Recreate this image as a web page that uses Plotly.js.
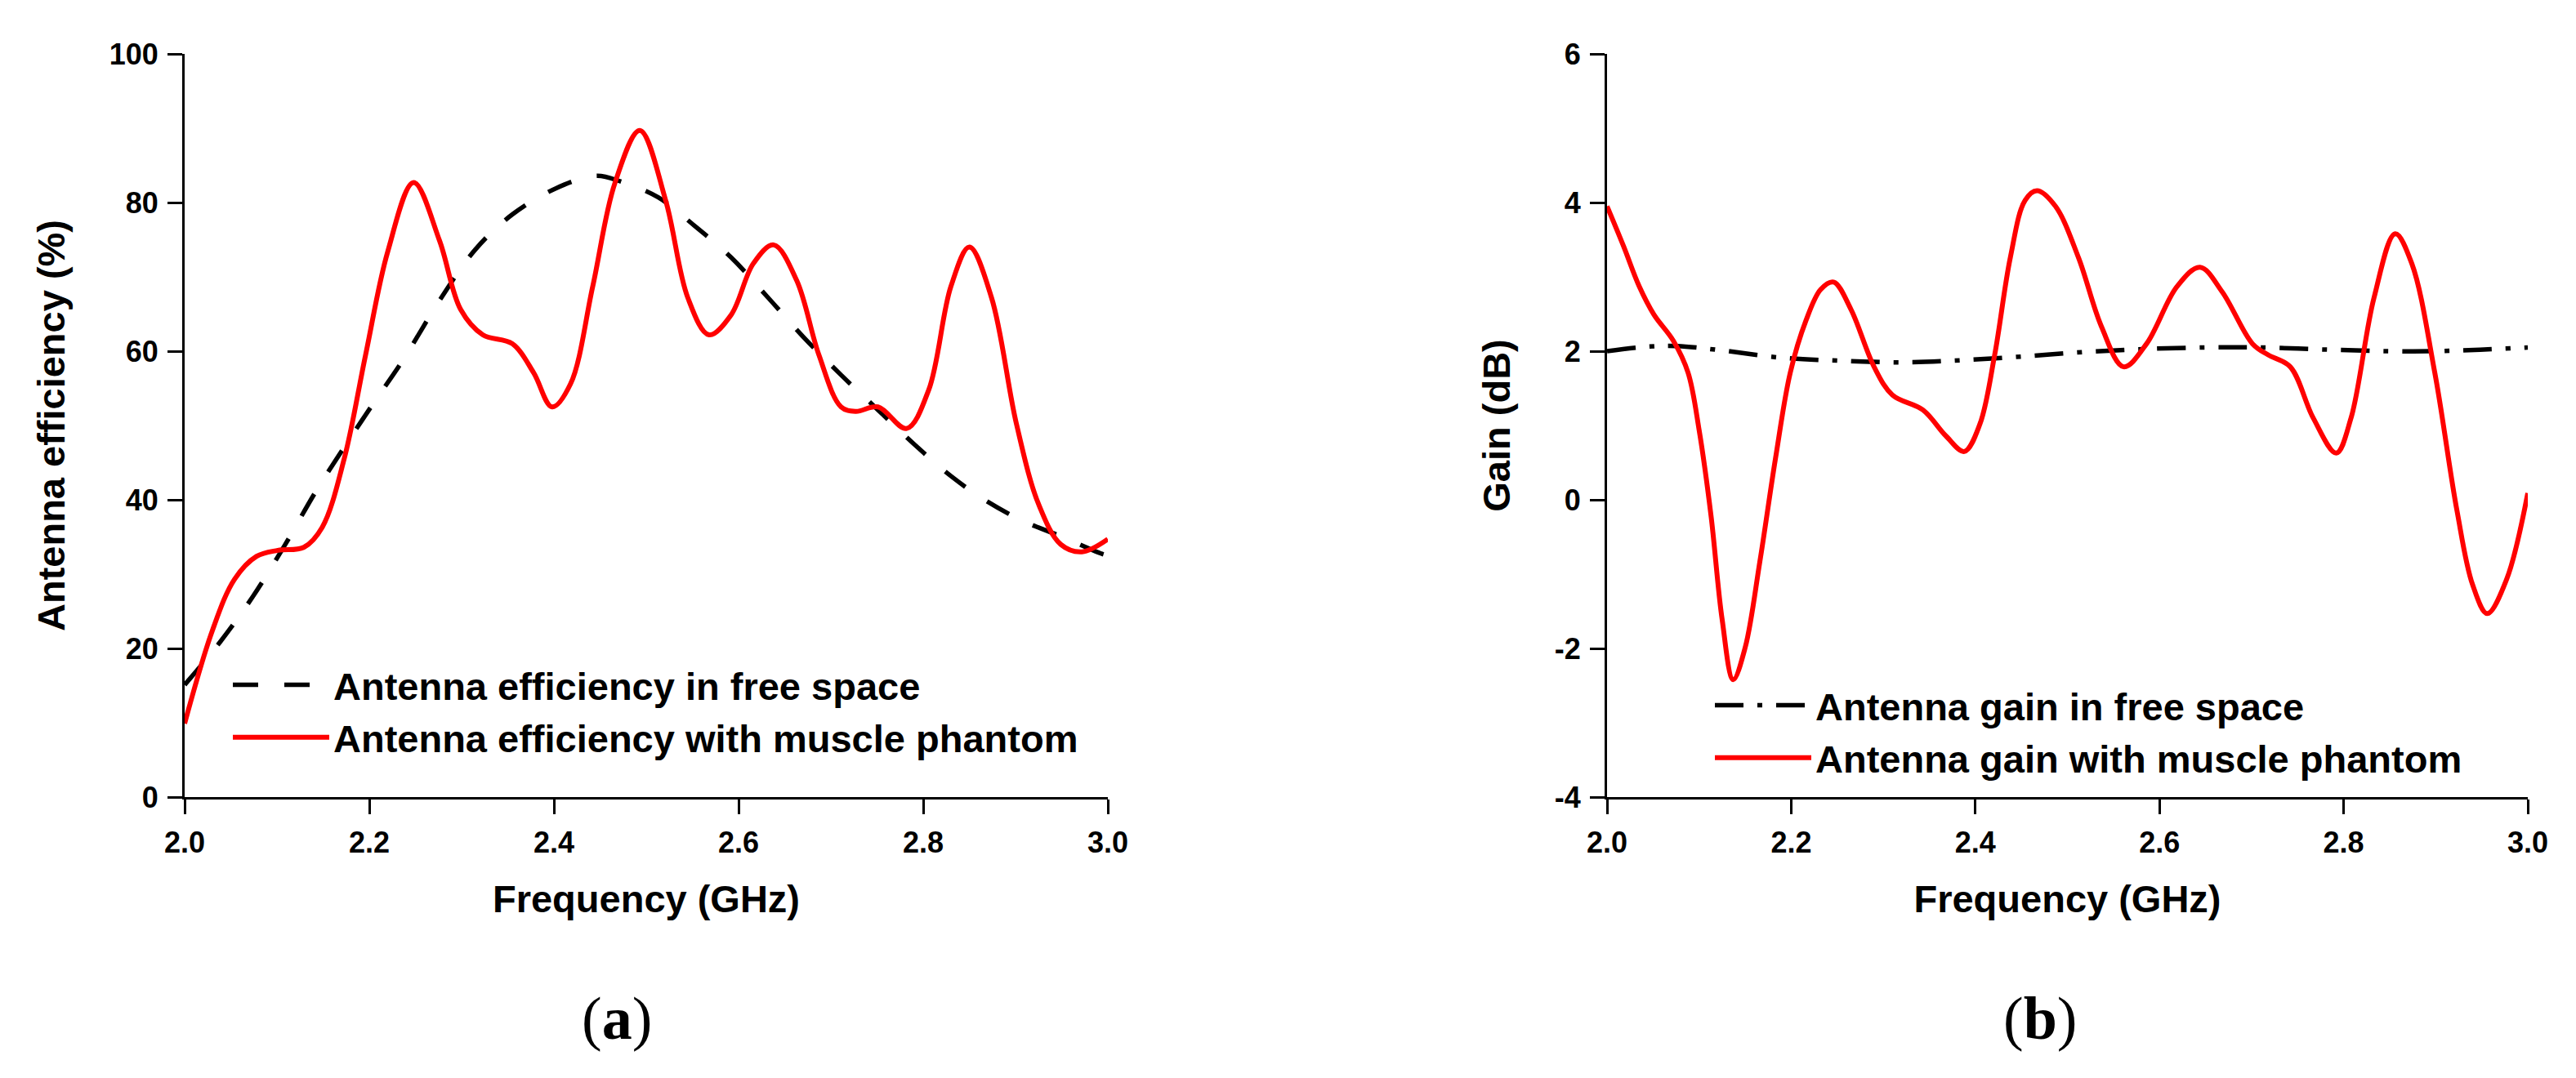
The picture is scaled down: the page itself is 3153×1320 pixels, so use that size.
<!DOCTYPE html>
<html>
<head>
<meta charset="utf-8">
<script src="https://cdn.plot.ly/plotly-3.0.1.min.js"></script>
<style>
  html, body { margin: 0; padding: 0; background: #fff; }
  #chart { width: 3153px; height: 1320px; }
</style>
</head>
<body>
<div id="chart"></div>
<script>
// ------------------------------------------------------------
// data
// ------------------------------------------------------------

// (a) antenna efficiency, free space (dashed black)
const effFreeFreq = [2.0, 2.038, 2.074, 2.109, 2.141, 2.173, 2.204, 2.236, 2.276, 2.315, 2.355, 2.402, 2.446, 2.473, 2.513, 2.553, 2.592, 2.632, 2.671, 2.711, 2.751, 2.790, 2.830, 2.869, 2.909, 2.949, 2.992, 3.0]
const effFreeVal  = [15.1, 20.8, 27.0, 34.0, 40.9, 47.1, 52.9, 58.7, 66.8, 73.7, 78.4, 81.9, 83.6, 82.8, 80.7, 76.8, 72.6, 67.2, 61.8, 56.8, 52.1, 47.5, 43.2, 39.8, 37.1, 35.1, 32.8, 32.5]

// (a) antenna efficiency, muscle phantom (solid red)
const effPhantomFreq = [2.0, 2.030, 2.054, 2.078, 2.101, 2.129, 2.149, 2.173, 2.196, 2.220, 2.248, 2.276, 2.299, 2.323, 2.355, 2.378, 2.398, 2.418, 2.442, 2.466, 2.493, 2.521, 2.545, 2.568, 2.592, 2.616, 2.638, 2.663, 2.687, 2.711, 2.727, 2.751, 2.782, 2.806, 2.830, 2.850, 2.874, 2.901, 2.925, 2.949, 2.972, 3.0]
const effPhantomVal  = [9.9, 22.4, 29.3, 32.4, 33.2, 33.6, 36.3, 45.6, 59.5, 73.4, 82.7, 74.9, 65.6, 62.2, 61.0, 57.1, 52.5, 55.6, 68.7, 82.6, 89.7, 80.3, 67.2, 62.2, 64.9, 71.8, 74.3, 69.5, 59.5, 52.5, 51.9, 52.5, 49.6, 54.8, 68.7, 74.0, 67.2, 50.2, 39.4, 34.0, 33.0, 34.7]

// (b) antenna gain, free space (dash-dot black)
const gainFreeFreq = [2.0, 2.043, 2.076, 2.125, 2.191, 2.257, 2.323, 2.388, 2.454, 2.520, 2.586, 2.652, 2.709, 2.784, 2.849, 2.899, 2.948, 3.0]
const gainFreeVal  = [2.00, 2.06, 2.07, 2.01, 1.91, 1.87, 1.85, 1.88, 1.93, 1.99, 2.03, 2.05, 2.05, 2.02, 2.00, 2.00, 2.02, 2.05]

// (b) antenna gain, muscle phantom (solid red)
const gainPhantomFreq = [2.0, 2.018, 2.035, 2.051, 2.072, 2.088, 2.100, 2.113, 2.125, 2.137, 2.150, 2.166, 2.183, 2.199, 2.216, 2.232, 2.246, 2.265, 2.290, 2.310, 2.343, 2.368, 2.388, 2.405, 2.421, 2.438, 2.454, 2.467, 2.487, 2.512, 2.537, 2.561, 2.586, 2.619, 2.644, 2.668, 2.701, 2.718, 2.742, 2.767, 2.792, 2.808, 2.833, 2.856, 2.874, 2.899, 2.923, 2.940, 2.956, 2.977, 3.0]
const gainPhantomVal  = [3.95, 3.41, 2.87, 2.49, 2.14, 1.71, 0.94, -0.22, -1.61, -2.42, -1.99, -0.83, 0.56, 1.71, 2.41, 2.83, 2.93, 2.56, 1.79, 1.41, 1.21, 0.86, 0.65, 1.02, 1.95, 3.26, 4.03, 4.16, 3.95, 3.26, 2.33, 1.79, 2.10, 2.87, 3.13, 2.80, 2.10, 1.95, 1.79, 1.10, 0.63, 1.10, 2.72, 3.58, 3.18, 1.71, -0.14, -1.14, -1.53, -1.07, 0.09]

const freqTicks = [2.0, 2.2, 2.4, 2.6, 2.8, 3.0]
const freqTickText = ['2.0', '2.2', '2.4', '2.6', '2.8', '3.0']
const effTicks  = [0, 20, 40, 60, 80, 100]
const gainTicks = [-4, -2, 0, 2, 4, 6]

// ------------------------------------------------------------
// style
// ------------------------------------------------------------
const FONT = 'Liberation Sans, Arial, sans-serif'
const tickFont   = { family: FONT, size: 36, color: '#000', weight: 700 }
const titleFont  = { family: FONT, size: 47, color: '#000', weight: 700 }
const legendFont = { family: FONT, size: 47, color: '#000', weight: 700 }

function baseAxis (range, ticks, text) {
    return {
        range: range,
        tickmode: 'array',
        tickvals: ticks,
        ticktext: text || ticks.map(String),
        showline: true,
        linecolor: '#000',
        linewidth: 3,
        ticks: 'outside',
        ticklen: 18,
        tickwidth: 3,
        tickcolor: '#000',
        tickfont: tickFont,
        ticklabelstandoff: 4,
        showgrid: false,
        zeroline: false,
        mirror: false,
        fixedrange: true
    }
}

const traces = [
    {
        x: effFreeFreq, y: effFreeVal, xaxis: 'x', yaxis: 'y',
        type: 'scatter', mode: 'lines',
        name: 'Antenna efficiency in free space',
        line: { color: '#000', width: 5.5, dash: '31px,32px', shape: 'spline', smoothing: 1 },
        legend: 'legend'
    },
    {
        x: effPhantomFreq, y: effPhantomVal, xaxis: 'x', yaxis: 'y',
        type: 'scatter', mode: 'lines',
        name: 'Antenna efficiency with muscle phantom',
        line: { color: '#ff0000', width: 6, shape: 'spline', smoothing: 1 },
        legend: 'legend'
    },
    {
        x: gainFreeFreq, y: gainFreeVal, xaxis: 'x2', yaxis: 'y2',
        type: 'scatter', mode: 'lines',
        name: 'Antenna gain in free space',
        line: { color: '#000', width: 5.5, dash: '35px,17px,6px,17px', shape: 'spline', smoothing: 1 },
        legend: 'legend2'
    },
    {
        x: gainPhantomFreq, y: gainPhantomVal, xaxis: 'x2', yaxis: 'y2',
        type: 'scatter', mode: 'lines',
        name: 'Antenna gain with muscle phantom',
        line: { color: '#ff0000', width: 6, shape: 'spline', smoothing: 1 },
        legend: 'legend2'
    }
]

// page geometry (px), converted to paper fractions
const W = 3153, H = 1320
const M = { l: 226, r: 59, t: 66, b: 344 }
const plotW = W - M.l - M.r
const plotH = H - M.t - M.b
const px = v => (v - M.l) / plotW
const py = v => (H - M.b - v) / plotH

const layout = {
    width: W,
    height: H,
    margin: M,
    paper_bgcolor: '#fff',
    plot_bgcolor: '#fff',
    showlegend: true,
    xaxis: Object.assign(baseAxis([2, 3], freqTicks, freqTickText), {
        domain: [0, px(1356)], anchor: 'y',
        title: { text: 'Frequency (GHz)', font: titleFont, standoff: 33 }
    }),
    yaxis: Object.assign(baseAxis([0, 100], effTicks), {
        domain: [0, 1], anchor: 'x',
        title: { text: 'Antenna efficiency (%)', font: titleFont, standoff: 40 }
    }),
    xaxis2: Object.assign(baseAxis([2, 3], freqTicks, freqTickText), {
        domain: [px(1967), 1], anchor: 'y2',
        title: { text: 'Frequency (GHz)', font: titleFont, standoff: 33 }
    }),
    yaxis2: Object.assign(baseAxis([-4, 6], gainTicks), {
        domain: [0, 1], anchor: 'x2',
        title: { text: 'Gain (dB)', font: titleFont, standoff: 40 }
    }),
    legend: {
        x: px(280), y: py(871), xanchor: 'left', yanchor: 'middle',
        font: legendFont, itemwidth: 118, bgcolor: 'rgba(0,0,0,0)', borderwidth: 0,
        traceorder: 'normal'
    },
    legend2: {
        x: px(2094), y: py(896), xanchor: 'left', yanchor: 'middle',
        font: legendFont, itemwidth: 118, bgcolor: 'rgba(0,0,0,0)', borderwidth: 0,
        traceorder: 'normal'
    },
    annotations: [
        {
            text: '(<b>a</b>)', xref: 'paper', yref: 'paper',
            x: px(755), y: py(1247),
            xanchor: 'center', yanchor: 'middle', showarrow: false,
            font: { family: 'Liberation Serif, Times New Roman, serif', size: 74, color: '#000' }
        },
        {
            text: '(<b>b</b>)', xref: 'paper', yref: 'paper',
            x: px(2497), y: py(1247),
            xanchor: 'center', yanchor: 'middle', showarrow: false,
            font: { family: 'Liberation Serif, Times New Roman, serif', size: 74, color: '#000' }
        }
    ]
}

Plotly.newPlot('chart', traces, layout, { staticPlot: true, displayModeBar: false })
</script>
</body>
</html>
